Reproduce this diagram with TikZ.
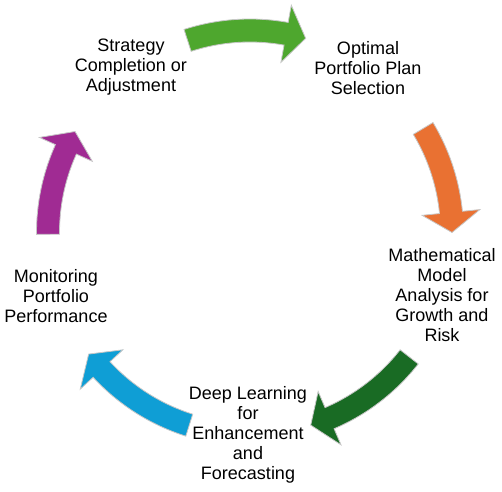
\documentclass[tikz,border=0pt]{standalone}
\usepackage{fontspec}
\setmainfont{Liberation Sans}
\usepackage{xcolor}
\usetikzlibrary{calc,positioning}

\definecolor{ogreen}{HTML}{4EA72E}
\definecolor{oorange}{HTML}{E97132}
\definecolor{odkgreen}{HTML}{196B24}
\definecolor{oblue}{HTML}{0F9ED5}
\definecolor{opurple}{HTML}{A02B93}

\tikzset{
  stagelabel/.style={align=center, inner sep=0pt, font=\fontsize{18}{20}\selectfont},
  arrowpart/.style={draw=black!22, line width=0.8pt}
}

% curved block arrow: colour, tail angle, tip angle
\newcommand{\cyclearrow}[3]{%
  \filldraw[arrowpart, fill=#1]
    (#2:213.5pt) arc[start angle=#2, end angle=#3+5.7, radius=213.5pt]
    -- (#3+5.7:231pt) -- (#3:202pt) -- (#3+5.7:173pt)
    -- (#3+5.7:190.5pt) arc[start angle=#3+5.7, end angle=#2, radius=190.5pt]
    -- cycle;}

\begin{document}
\begin{tikzpicture}[x=1pt,y=1pt]
  \useasboundingbox (-250,-258.5) rectangle (252,232.5);
  % Define points
  \coordinate (O) at (0,0);
  % Stage labels
  \node[stagelabel] (strategy) at (-119,165.5) {Strategy\\Completion or\\Adjustment};
  \node[stagelabel] (optimal) at (118,164.5) {Optimal\\Portfolio Plan\\Selection};
  \node[stagelabel] (model) at (192,-62.5) {Mathematical\\Model\\Analysis for\\Growth and\\Risk};
  \node[stagelabel] (deep) at (-2,-202.5) {Deep Learning\\for\\Enhancement\\and\\Forecasting};
  \node[stagelabel] (monitor) at (-194,-63.5) {Monitoring\\Portfolio\\Performance};
  % Cycle arrows
  \cyclearrow{ogreen}{108}{74}
  \cyclearrow{oorange}{31}{0}
  \cyclearrow{odkgreen}{-38}{-72.5}
  \cyclearrow{oblue}{-107.5}{-143}
  \cyclearrow{opurple}{180.5}{150}
\end{tikzpicture}
\end{document}
